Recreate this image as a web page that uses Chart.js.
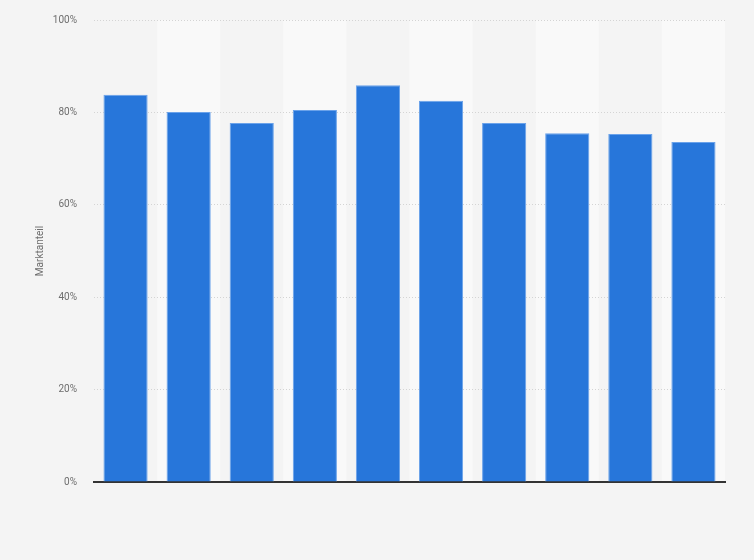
<!DOCTYPE html>
<html>
<head>
<meta charset="utf-8">
<script src="https://cdn.jsdelivr.net/npm/chart.js@4"></script>
<style>
  html, body { margin: 0; padding: 0; background: #f4f4f4; }
  #wrap { width: 754px; height: 560px; }
</style>
</head>
<body>
<div id="wrap"><canvas id="share-chart"></canvas></div>
<script>
// categories are not labelled in the picture
var categories = ['1', '2', '3', '4', '5', '6', '7', '8', '9', '10'];
var shareValues = [83.8, 80.1, 77.7, 80.5, 85.9, 82.5, 77.7, 75.5, 75.3, 73.6];
var yTicks = [0, 20, 40, 60, 80, 100];

// light bands behind every second category
var bandPlugin = {
  id: 'bands',
  beforeDraw: function(chart) {
    var ctx = chart.ctx;
    var x = chart.scales.x;
    var area = chart.chartArea;
    var step = (x.getPixelForValue(1) - x.getPixelForValue(0));
    ctx.save();
    ctx.fillStyle = '#f9f9f9';
    categories.forEach(function(c, i) {
      if (i % 2 == 1) {
        var cx = x.getPixelForValue(i);
        ctx.fillRect(cx - step / 2, area.top, step, area.bottom - area.top);
      }
    });
    ctx.restore();
  }
};

new Chart('share-chart', {
  type: 'bar',
  data: {
    labels: categories,
    datasets: [{
      label: 'Marktanteil',
      data: shareValues,
      backgroundColor: '#2776da',
      borderColor: '#6aa2ea',
      borderWidth: 1,
      barPercentage: 0.7,
      categoryPercentage: 1.0,
    }],
  },
  options: {
    responsive: true,
    maintainAspectRatio: false,
    animation: false,
    layout: { padding: { left: 0, right: 29, top: 20, bottom: 70 } },
    plugins: {
      legend: { display: false },
      tooltip: { enabled: false },
    },
    scales: {
      x: {
        grid: { display: false },
        ticks: { display: false },
        border: { color: '#333333', width: 2 },
      },
      y: {
        min: 0,
        max: 100,
        afterBuildTicks: function(scale) {
          scale.ticks = yTicks.map(function(v) { return { value: v }; });
        },
        afterFit: function(scale) {
          scale.width = 94;
          // tick padding would otherwise push the plot area down
          scale.paddingTop = 6;
          scale.paddingBottom = 6;
        },
        grid: {
          color: function(c) { return c.tick.value == 0 ? 'rgba(0,0,0,0)' : '#d4d4d4'; },
          drawTicks: false,
        },
        border: { display: false, dash: [1, 2] },
        ticks: {
          padding: 17,
          color: '#6e6e6e',
          font: { family: 'Roboto', size: 10 },
          callback: function(v) { return v + '%'; },
        },
        title: {
          display: true,
          text: 'Marktanteil',
          color: '#6e6e6e',
          font: { family: 'Roboto', size: 10 },
          padding: { top: 34, bottom: 0 },
        },
      },
    },
  },
  plugins: [bandPlugin],
});
</script>
</body>
</html>
